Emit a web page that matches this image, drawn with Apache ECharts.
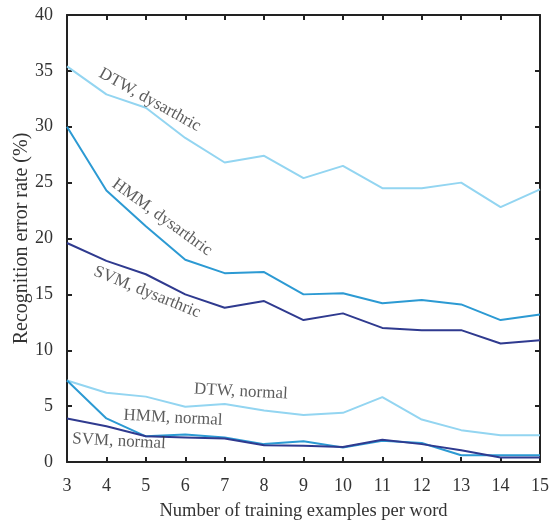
<!DOCTYPE html>
<html>
<head>
<meta charset="utf-8">
<script src="https://cdn.jsdelivr.net/npm/echarts@6/dist/echarts.min.js"></script>
<style>
  html, body { margin: 0; padding: 0; background: #fff; }
  #chart { width: 551px; height: 523px; }
</style>
</head>
<body>
<div id="chart"></div>
<script>
// Number of training examples per word
const examples = [3, 4, 5, 6, 7, 8, 9, 10, 11, 12, 13, 14, 15];

// Recognition error rate (%) per method and speaker group
const dtwDysarthric = [35.4, 32.9, 31.7, 29.0, 26.8, 27.4, 25.4, 26.5, 24.5, 24.5, 25.0, 22.8, 24.4];
const hmmDysarthric = [30.0, 24.3, 21.1, 18.1, 16.9, 17.0, 15.0, 15.1, 14.2, 14.5, 14.1, 12.7, 13.2];
const svmDysarthric = [19.6, 18.0, 16.8, 15.0, 13.8, 14.4, 12.7, 13.3, 12.0, 11.8, 11.8, 10.6, 10.9];
const dtwNormal     = [7.3, 6.2, 5.85, 4.95, 5.2, 4.6, 4.2, 4.4, 5.8, 3.8, 2.85, 2.4, 2.4];
const hmmNormal     = [7.3, 3.9, 2.3, 2.45, 2.2, 1.6, 1.85, 1.3, 1.9, 1.7, 0.6, 0.6, 0.6];
const svmNormal     = [3.9, 3.2, 2.3, 2.2, 2.1, 1.5, 1.45, 1.35, 2.0, 1.6, 1.05, 0.4, 0.4];

// Line labels: text, anchor in data units, rotation in degrees
const lineLabels = [
  { text: 'DTW, dysarthric', x: 5.1, y: 32.4, rotate: -29 },
  { text: 'HMM, dysarthric', x: 5.41, y: 21.9, rotate: -36 },
  { text: 'SVM, dysarthric', x: 5.03, y: 15.2, rotate: -22 },
  { text: 'DTW, normal', x: 7.41, y: 6.3, rotate: -3 },
  { text: 'HMM, normal', x: 5.69, y: 3.95, rotate: -3 },
  { text: 'SVM, normal', x: 4.32, y: 1.85, rotate: -3 }
];

const COLOR_DTW = '#93d5f1';
const COLOR_HMM = '#2c9ad3';
const COLOR_SVM = '#2f3a8f';
const FONT = '"Liberation Serif", "Times New Roman", serif';
const TEXT = '#333';
const AXIS = '#222';

function pairs(values) {
  return examples.map((x, i) => [x, values[i]]);
}

function lineSeries(name, values, color) {
  return {
    name: name,
    type: 'line',
    data: pairs(values),
    symbol: 'none',
    lineStyle: { color: color, width: 2 },
    itemStyle: { color: color },
    z: 3
  };
}

const chart = echarts.init(document.getElementById('chart'), null, { renderer: 'canvas' });

const tickInside = { show: true, inside: true, length: 5, lineStyle: { color: AXIS, width: 2 } };

chart.setOption({
  animation: false,
  backgroundColor: '#fff',
  grid: { left: 67, right: 11, top: 15, bottom: 61, containLabel: false, outerBoundsMode: 'none' },
  xAxis: [
    {
      type: 'value', min: 3, max: 15, interval: 1, position: 'bottom',
      name: 'Number of training examples per word',
      nameLocation: 'middle', nameGap: 40, nameMoveOverlap: false,
      nameTextStyle: { fontFamily: FONT, fontSize: 18.5, color: TEXT },
      axisLine: { show: true, onZero: false, lineStyle: { color: AXIS, width: 2 } },
      axisTick: tickInside,
      axisLabel: { fontFamily: FONT, fontSize: 18, color: TEXT, margin: 15 },
      splitLine: { show: false }
    },
    {
      type: 'value', min: 3, max: 15, interval: 1, position: 'top',
      axisLine: { show: true, onZero: false, lineStyle: { color: AXIS, width: 2 } },
      axisTick: tickInside,
      axisLabel: { show: false },
      splitLine: { show: false }
    }
  ],
  yAxis: [
    {
      type: 'value', min: 0, max: 40, interval: 5, position: 'left',
      name: 'Recognition error rate (%)',
      nameLocation: 'middle', nameGap: 35, nameMoveOverlap: false,
      nameTextStyle: { fontFamily: FONT, fontSize: 20, color: TEXT },
      axisLine: { show: true, onZero: false, lineStyle: { color: AXIS, width: 2 } },
      axisTick: tickInside,
      axisLabel: { fontFamily: FONT, fontSize: 18, color: TEXT, margin: 14 },
      splitLine: { show: false }
    },
    {
      type: 'value', min: 0, max: 40, interval: 5, position: 'right',
      axisLine: { show: true, onZero: false, lineStyle: { color: AXIS, width: 2 } },
      axisTick: tickInside,
      axisLabel: { show: false },
      splitLine: { show: false }
    }
  ],
  series: [
    lineSeries('DTW, dysarthric', dtwDysarthric, COLOR_DTW),
    lineSeries('HMM, dysarthric', hmmDysarthric, COLOR_HMM),
    lineSeries('SVM, dysarthric', svmDysarthric, COLOR_SVM),
    lineSeries('DTW, normal', dtwNormal, COLOR_DTW),
    lineSeries('HMM, normal', hmmNormal, COLOR_HMM),
    lineSeries('SVM, normal', svmNormal, COLOR_SVM),
    {
      name: 'labels',
      type: 'scatter',
      symbolSize: 0,
      silent: true,
      z: 5,
      data: lineLabels.map(l => ({
        value: [l.x, l.y],
        name: l.text,
        label: {
          show: true,
          position: 'inside',
          formatter: l.text,
          rotate: l.rotate,
          fontFamily: FONT,
          fontSize: 17,
          color: TEXT
        }
      }))
    }
  ]
});
</script>
</body>
</html>
